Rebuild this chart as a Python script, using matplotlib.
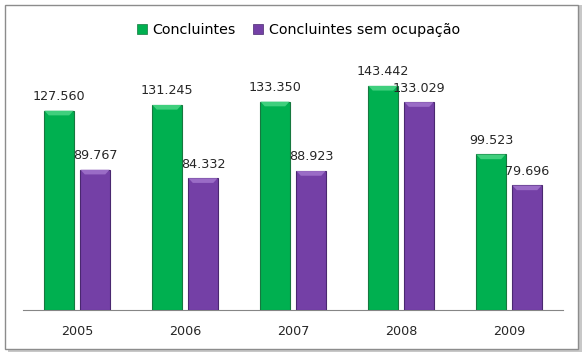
import numpy as np
import matplotlib.pyplot as plt
from matplotlib.patches import Rectangle

anos = ["2005", "2006", "2007", "2008", "2009"]
concluintes = [127560, 131245, 133350, 143442, 99523]
sem_ocupacao = [89767, 84332, 88923, 133029, 79696]
series = ["Concluintes", "Concluintes sem ocupação"]


def fmt(v):
    return f"{v:,}".replace(",", ".")


fig = plt.figure(figsize=(5.88, 3.57), dpi=100)

# moldura com sombra (atras do eixo)
fig.patches.append(Rectangle((8 / 588, 5 / 357), 574 / 588, 347 / 357, transform=fig.transFigure,
                             facecolor="#c8c8c8", edgecolor="none", zorder=-2))
fig.patches.append(Rectangle((5 / 588, 8 / 357), 573 / 588, 344 / 357, transform=fig.transFigure,
                             facecolor="white", edgecolor="#8c8c8c", lw=1, zorder=-1))

ax = fig.add_axes([23 / 588, 47 / 357, 540 / 588, 250 / 357])
ax.set_facecolor("none")

x = np.arange(len(anos))
w = 0.27
off = 0.167
b1 = ax.bar(x - off, concluintes, w, color="#00b050", edgecolor="#16783f", lw=0.8, label=series[0], zorder=3)
b2 = ax.bar(x + off, sem_ocupacao, w, color="#7440a6", edgecolor="#4a2870", lw=0.8, label=series[1], zorder=3)

# leve realce no topo das barras (bisel)
for bars, top in ((b1, "#3fcf7d"), (b2, "#9a6cc6")):
    for r in bars:
        bx, bw, bh = r.get_x(), r.get_width(), r.get_height()
        ax.fill([bx, bx + bw, bx + bw * 0.85, bx + bw * 0.15],
                [bh, bh, bh - 3000, bh - 3000], color=top, lw=0, zorder=4)

for bars, vals in ((b1, concluintes), (b2, sem_ocupacao)):
    for r, v in zip(bars, vals):
        ax.annotate(fmt(v), (r.get_x() + r.get_width() / 2, v), xytext=(0, 5.5),
                    textcoords="offset points", ha="center", va="bottom",
                    fontsize=9.2, color="#262626")

ax.set_ylim(0, 160000)
ax.set_xlim(-0.5, len(anos) - 0.5)
ax.set_xticks(x)
ax.set_xticklabels(anos, fontsize=9.2, color="#262626")
ax.tick_params(axis="x", length=0, pad=11)
ax.set_yticks([])
for s in ["top", "right", "left"]:
    ax.spines[s].set_visible(False)
ax.spines["bottom"].set_color("#868686")

leg = ax.legend(loc="upper center", bbox_to_anchor=(0.51, 1.2), ncol=2, frameon=False,
                fontsize=10.3, handlelength=0.7, handleheight=0.7, handletextpad=0.4,
                columnspacing=1.2)
for h in leg.legend_handles:
    h.set_linewidth(0.5)

fig.savefig("out.png", dpi=100)
